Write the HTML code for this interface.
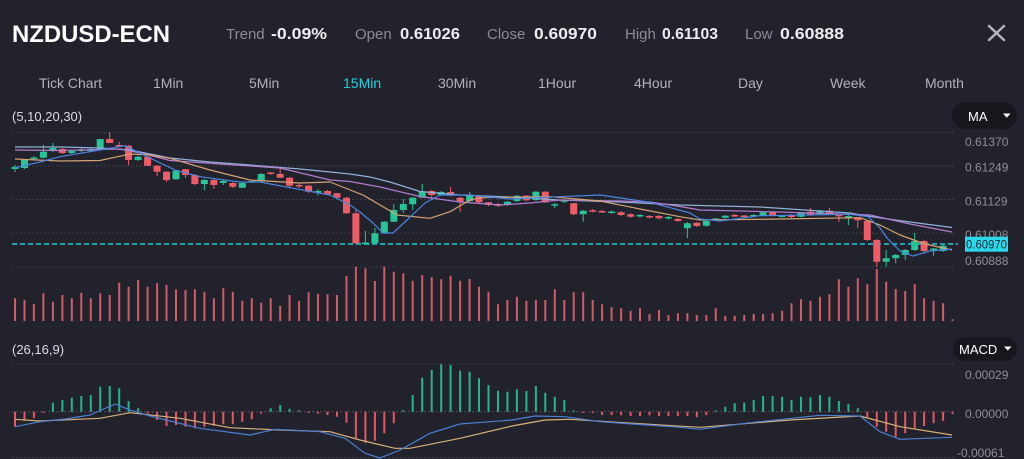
<!DOCTYPE html>
<html><head><meta charset="utf-8"><style>
html,body{margin:0;padding:0;background:#22222c;width:1024px;height:459px;overflow:hidden}
svg{display:block}
text{font-family:"Liberation Sans",sans-serif}
</style></head><body>
<svg width="1024" height="459" viewBox="0 0 1024 459" xmlns="http://www.w3.org/2000/svg">
<rect width="1024" height="459" fill="#22222c"/>
<text x="12" y="42" font-size="24" font-weight="bold" fill="#ffffff" textLength="158" lengthAdjust="spacingAndGlyphs">NZDUSD-ECN</text>
<g font-size="15" fill="#8c8c96">
<text x="226" y="39">Trend</text>
<text x="355" y="39">Open</text>
<text x="487" y="39">Close</text>
<text x="625" y="39">High</text>
<text x="745" y="39">Low</text>
</g>
<g font-size="16" font-weight="bold" fill="#ededf0">
<text x="271" y="39" textLength="56" lengthAdjust="spacingAndGlyphs">-0.09%</text>
<text x="400" y="39" textLength="60" lengthAdjust="spacingAndGlyphs">0.61026</text>
<text x="534" y="39" textLength="63" lengthAdjust="spacingAndGlyphs">0.60970</text>
<text x="662" y="39" textLength="56" lengthAdjust="spacingAndGlyphs">0.61103</text>
<text x="780" y="39" textLength="64" lengthAdjust="spacingAndGlyphs">0.60888</text>
</g>
<path d="M989 26L1004 40M1004 26L989 40" stroke="#b4b4bc" stroke-width="2.5" stroke-linecap="round"/>
<g font-size="14" fill="#b2b2ba">
<text x="39" y="88" textLength="63" lengthAdjust="spacingAndGlyphs">Tick Chart</text>
<text x="153" y="88">1Min</text>
<text x="249" y="88">5Min</text>
<text x="343" y="88" fill="#25d0de">15Min</text>
<text x="438" y="88">30Min</text>
<text x="538" y="88">1Hour</text>
<text x="634" y="88">4Hour</text>
<text x="738" y="88">Day</text>
<text x="830" y="88">Week</text>
<text x="925" y="88">Month</text>
</g>
<text x="12" y="121" font-size="13" fill="#dcdce0">(5,10,20,30)</text>
<text x="12" y="354" font-size="13" fill="#dcdce0">(26,16,9)</text>
<rect x="952" y="102" width="65" height="27" rx="13.5" fill="#17171e"/>
<text x="968" y="121" font-size="13" fill="#ffffff">MA</text>
<polygon points="1003,113.5 1010.5,113.5 1006.75,117.8" fill="#ffffff"/>
<rect x="953" y="337" width="64" height="24" rx="12" fill="#17171e"/>
<text x="959" y="354" font-size="13" fill="#ffffff">MACD</text>
<polygon points="1004,346.5 1011.5,346.5 1007.75,350.5" fill="#ffffff"/>
<path d="M12 132.5H956M12 166H956M12 199.5H956M12 233.3H956M12 267H956M12 364H956M12 457.5H956" stroke="#3c3c48" stroke-width="1" stroke-dasharray="2,2"/>
<path d="M12 411.7H956" stroke="#5a4652" stroke-width="1" stroke-dasharray="2,2"/>
<g font-size="12" fill="#8e8e98">
<text x="965" y="146">0.61370</text>
<text x="965" y="171.5">0.61249</text>
<text x="965" y="205.5">0.61129</text>
<text x="965" y="239">0.61008</text>
<text x="965" y="265">0.60888</text>
<text x="965" y="379">0.00029</text>
<text x="965" y="418">0.00000</text>
<text x="957" y="457">-0.00061</text>
</g>
<path fill="none" stroke="#d05c66" stroke-width="2" d="M15 298.3V321M24.5 300V321M33.9 304V321M43.4 293.3V321M52.9 301.7V321M62.4 295V321M71.8 298.3V321M81.3 292.7V321M90.8 298.3V321M100.2 293.3V321M109.7 295V321M119.2 282.7V321M128.6 286.7V321M138.1 280V321M147.6 286.7V321M157.1 283.3V321M166.5 285V321M176 289.3V321M185.5 290V321M194.9 289.3V321M204.4 291.7V321M213.9 298.3V321M223.3 288.3V321M232.8 291.7V321M242.3 300.7V321M251.8 298.3V321M261.2 302.7V321M270.7 298.3V321M280.2 305.7V321M289.6 295V321M299.1 300.7V321M308.6 292.3V321M318 294V321M327.5 294.3V321M337 295V321M346.5 276V321M355.9 266.7V321M365.4 268.3V321M374.9 281V321M384.3 266.7V321M393.8 271.7V321M403.3 273.3V321M412.7 280.7V321M422.2 275V321M431.7 277.3V321M441.2 279.3V321M450.6 275.7V321M460.1 280.7V321M469.6 279V321M479 286.7V321M488.5 291.7V321M498 304.3V321M507.4 300V321M516.9 296.7V321M526.4 300.7V321M535.9 300V321M545.3 300V321M554.8 289.3V321M564.3 300V321M573.7 292.3V321M583.2 292.3V321M592.7 300V321M602.1 304.3V321M611.6 307.3V321M621.1 308.3V321M630.6 310.7V321M640 308.3V321M649.5 314V321M659 310V321M668.4 315V321M677.9 313.3V321M687.4 313.3V321M696.8 315V321M706.3 315V321M715.8 308.3V321M725.3 315.7V321M734.7 315.7V321M744.2 315V321M753.7 314V321M763.1 314V321M772.6 313.3V321M782.1 310.7V321M791.5 303.3V321M801 299.3V321M810.5 300.7V321M820 296.7V321M829.4 294.3V321M838.9 279.3V321M848.4 286.7V321M857.8 278.3V321M867.3 284.3V321M876.8 269V321M886.2 281.7V321M895.7 289V321M905.2 291V321M914.7 284.3V321M924.1 298.3V321M933.6 300.7V321M943.1 303.3V321M952.5 319.3V321"/>
<path d="M12 244H958" stroke="#2bc6d6" stroke-width="1.5" stroke-dasharray="5,3"/>
<rect x="965" y="236.7" width="43" height="15" fill="#2ed8ec"/>
<text x="966" y="248.5" font-size="12" fill="#0c2a32" textLength="41" lengthAdjust="spacingAndGlyphs">0.60970</text>
<path fill="none" stroke="#26c497" stroke-width="1" d="M15 165V172M24.5 159V169M33.9 156V160M43.4 145V158.3M52.9 143V152M71.8 150V154M81.3 146.7V152M90.8 147V152M100.2 139V150M138.1 156V161M176 170V180M204.4 179V190M223.3 180V185M242.3 182V188M251.8 180V183M261.2 173V182M318 189V195.7M365.4 231V245M374.9 228V244M384.3 221V234M393.8 204V222M403.3 199V213M412.7 197V210M422.2 184V198M441.2 191V196M469.6 192V202M507.4 201V206M516.9 195V202M535.9 191V201M554.8 203V208M564.3 199V203M583.2 210V221.7M611.6 210.5V214M640 214V217.5M668.4 216V219.5M687.4 222V238.3M706.3 220V226.5M715.8 218V221M725.3 215V218.5M753.7 214V217M763.1 212V216.5M782.1 215V217.5M801 212V217.5M820 210V215M848.4 215V225M886.2 250V266.7M895.7 254V263.3M905.2 249V260M914.7 233V251M933.6 248V255.7M943.1 245V252"/>
<path fill="none" stroke="#26c497" stroke-width="7" d="M15 167V169M24.5 160V168M33.9 157.5V159M43.4 151.7V157.7M52.9 148V151M71.8 151V153M81.3 149.5V151M90.8 149.5V151M100.2 139V150M138.1 156.7V160M176 170.7V179.3M204.4 180V184M223.3 181V183M242.3 183V187.7M251.8 181V182.5M261.2 174V181M318 191V192.5M365.4 242.5V244M374.9 233.3V243.3M384.3 221.7V233.3M393.8 210V221.7M403.3 204V210M412.7 197.7V204.3M422.2 191.7V197.7M441.2 192V195M469.6 195.7V201M507.4 201.7V205M516.9 195.7V201M535.9 191.7V200M554.8 204.3V205.7M564.3 200.3V201.7M583.2 210.7V214.3M611.6 211.5V213M640 215V216.5M668.4 217V218.5M687.4 223.3V228.3M706.3 221V225.7M715.8 218.5V220M725.3 215.7V217.7M753.7 215V216.5M763.1 212.3V215.7M782.1 215.5V217M801 212.3V216.7M820 210.7V214.3M848.4 216V217.5M886.2 258.3V261.7M895.7 255V258.3M905.2 250V255M914.7 241V250M933.6 248.5V250M943.1 245.7V251"/>
<path fill="none" stroke="#ee5d67" stroke-width="1" d="M62.4 148V154M109.7 132V143M119.2 141.7V146.7M128.6 145V165M147.6 156V166M157.1 165V176M166.5 171V182M185.5 169V178M194.9 174V185M213.9 179V189M232.8 182V188M270.7 172V175M280.2 168V178M289.6 177V187M299.1 183V188M308.6 185V193M327.5 190V195M337 193V198M346.5 197V214M355.9 210V244M431.7 190V200M450.6 187V196M460.1 197V211.7M479 195V203M488.5 202V206M498 203V207M526.4 195V201M545.3 191V203M573.7 203V215M592.7 209V212.5M602.1 210V213M621.1 211V216M630.6 213.5V217.5M649.5 215V218.5M659 215V219.5M677.9 218V222M696.8 222V227M734.7 214V217M744.2 215V218M772.6 212V216.5M791.5 214V218M810.5 207.7V216M829.4 207.7V214.5M838.9 213.5V222M857.8 217V228.3M867.3 220V241M876.8 239V266.7M924.1 240V252"/>
<path fill="none" stroke="#ee5d67" stroke-width="7" d="M62.4 149V153M109.7 139V143M119.2 145V146.5M128.6 145.7V160M147.6 156.7V165.7M157.1 165.7V171.7M166.5 171.7V180M185.5 169.3V175M194.9 175V184M213.9 180V185M232.8 183V186.7M270.7 172.5V174M280.2 174V177.7M289.6 177.7V185.7M299.1 185V186.5M308.6 185.7V191.7M327.5 191V194.3M337 193.3V197.7M346.5 197.7V213.3M355.9 213.3V243.3M431.7 191V195M450.6 192V195.7M460.1 197.7V201.7M479 195.7V202.3M488.5 202.3V205M498 204V205.7M526.4 195.7V200.3M545.3 191.7V202.3M573.7 203.3V214.3M592.7 210.3V211.7M602.1 211V212.5M621.1 212.3V215M630.6 214.3V216.7M649.5 216V217.5M659 216V218.3M677.9 219V221M696.8 222.7V226M734.7 215V216.5M744.2 215.5V217M772.6 212.3V215.7M791.5 215V217M810.5 211.7V215M829.4 210.7V213.7M838.9 214.3V216.3M857.8 217.7V220.3M867.3 221V240M876.8 240V261.7M924.1 241V251"/>
<g fill="none" stroke-width="1.2" stroke-linejoin="round">
<polyline stroke="#8fb0d8" points="15,147 60,147 100,148 130,150 170,158 210,162 250,165 300,169 350,174 370,177 390,182 420,191.5 460,195 510,197 560,200 620,202 680,205 760,207 850,213 870,216.5 910,222 952,227.5"/>
<polyline stroke="#b07ccf" points="15,150 60,150.5 120,149 145,154 170,160.5 220,164 280,168 330,180 350,181.5 380,187 420,196.5 460,202 500,205 530,203 560,200 620,201 650,202 680,206.5 700,210 780,212 870,215 910,224 952,232"/>
<polyline stroke="#d4a373" points="15,159 60,161 100,160.5 130,154 150,155 170,158.3 210,170 250,180 300,183 330,182 363,195 397,215 430,218.3 450,211.7 470,200 480,197.7 550,196.7 600,201 640,209 680,216.7 700,220 780,219 860,217.7 880,225 900,235 925,244 952,250"/>
<polyline stroke="#4a84e0" points="15,167.7 40,162 60,156.7 100,150 125,145.7 150,158 175,170 200,176.7 240,182 260,182 290,187.7 330,195 350,205 360,212 373,223 383,233 393,233 407,220 425,203 440,195 470,195 510,199 560,196.7 600,195 650,202.3 690,213 700,219 720,221 760,215.7 850,214.3 868,216.7 880,228 887,238 900,251 913,256 930,251 952,249"/>
</g>
<path fill="none" stroke="#22b58e" stroke-width="2" d="M52.9 411.7V402.7M62.4 411.7V400M71.8 411.7V397.7M81.3 411.7V396M90.8 411.7V395M100.2 411.7V386.7M109.7 411.7V386M119.2 411.7V388.3M128.6 411.7V401M138.1 411.7V408.3M270.7 411.7V408.3M280.2 411.7V405M289.6 411.7V408.7M299.1 411.7V410.5M403.3 411.7V410.3M412.7 411.7V395M422.2 411.7V377.7M431.7 411.7V370M441.2 411.7V364.3M450.6 411.7V365M460.1 411.7V370.7M469.6 411.7V371.7M479 411.7V378.3M488.5 411.7V385M498 411.7V390.7M507.4 411.7V391.7M516.9 411.7V389.3M526.4 411.7V391M535.9 411.7V386M545.3 411.7V392.7M554.8 411.7V396.7M564.3 411.7V400M573.7 411.7V410.5M715.8 411.7V410.5M725.3 411.7V406.7M734.7 411.7V403.3M744.2 411.7V402.7M753.7 411.7V400M763.1 411.7V396M772.6 411.7V396M782.1 411.7V396.7M791.5 411.7V400M801 411.7V396.7M810.5 411.7V397.3M820 411.7V395M829.4 411.7V396.7M838.9 411.7V401M848.4 411.7V404M857.8 411.7V408.3"/>
<path fill="none" stroke="#e05862" stroke-width="2" d="M15 411.7V426.7M24.5 411.7V420.7M33.9 411.7V418.3M43.4 411.7V413M147.6 411.7V413.5M157.1 411.7V420M166.5 411.7V426M176 411.7V425M185.5 411.7V426.7M194.9 411.7V428.3M204.4 411.7V426.7M213.9 411.7V425.7M223.3 411.7V424.3M232.8 411.7V424.3M242.3 411.7V421.7M251.8 411.7V419.3M261.2 411.7V413.5M308.6 411.7V413M318 411.7V413.5M327.5 411.7V415M337 411.7V416.7M346.5 411.7V422.7M355.9 411.7V438.3M365.4 411.7V442.7M374.9 411.7V440.7M384.3 411.7V433.3M393.8 411.7V423.3M583.2 411.7V413M592.7 411.7V413M602.1 411.7V415M611.6 411.7V415M621.1 411.7V415.3M630.6 411.7V416M640 411.7V416M649.5 411.7V415.3M659 411.7V416M668.4 411.7V416M677.9 411.7V416M687.4 411.7V416M696.8 411.7V417.3M706.3 411.7V415M867.3 411.7V417.3M876.8 411.7V426.7M886.2 411.7V431.7M895.7 411.7V436.7M905.2 411.7V433.3M914.7 411.7V428.3M924.1 411.7V426M933.6 411.7V423.3M943.1 411.7V420.7M952.5 411.7V414"/>
<g fill="none" stroke-width="1.2" stroke-linejoin="round">
<polyline stroke="#d8b07a" points="15,419.3 40,421 100,418.3 130,412.7 180,418.3 230,427.7 280,430 330,431.7 360,440 395,448.3 410,448.3 460,438.3 512,426 545,420 570,419.3 650,424.3 700,427.3 790,420 860,416 900,426.7 952,435"/>
<polyline stroke="#4a7fd4" points="15,426.7 40,421.7 65,419 90,415 115,404 130,410 150,416 200,428.3 250,435 275,429.3 320,431.7 345,438.3 365,453.3 380,458 400,450 430,433.3 460,424 490,421.7 512,420 535,416 565,416.7 600,421.7 680,427.3 700,429.3 750,422.7 820,415.3 860,416 880,431.7 900,439.3 952,437.3"/>
</g>
</svg>
</body></html>
